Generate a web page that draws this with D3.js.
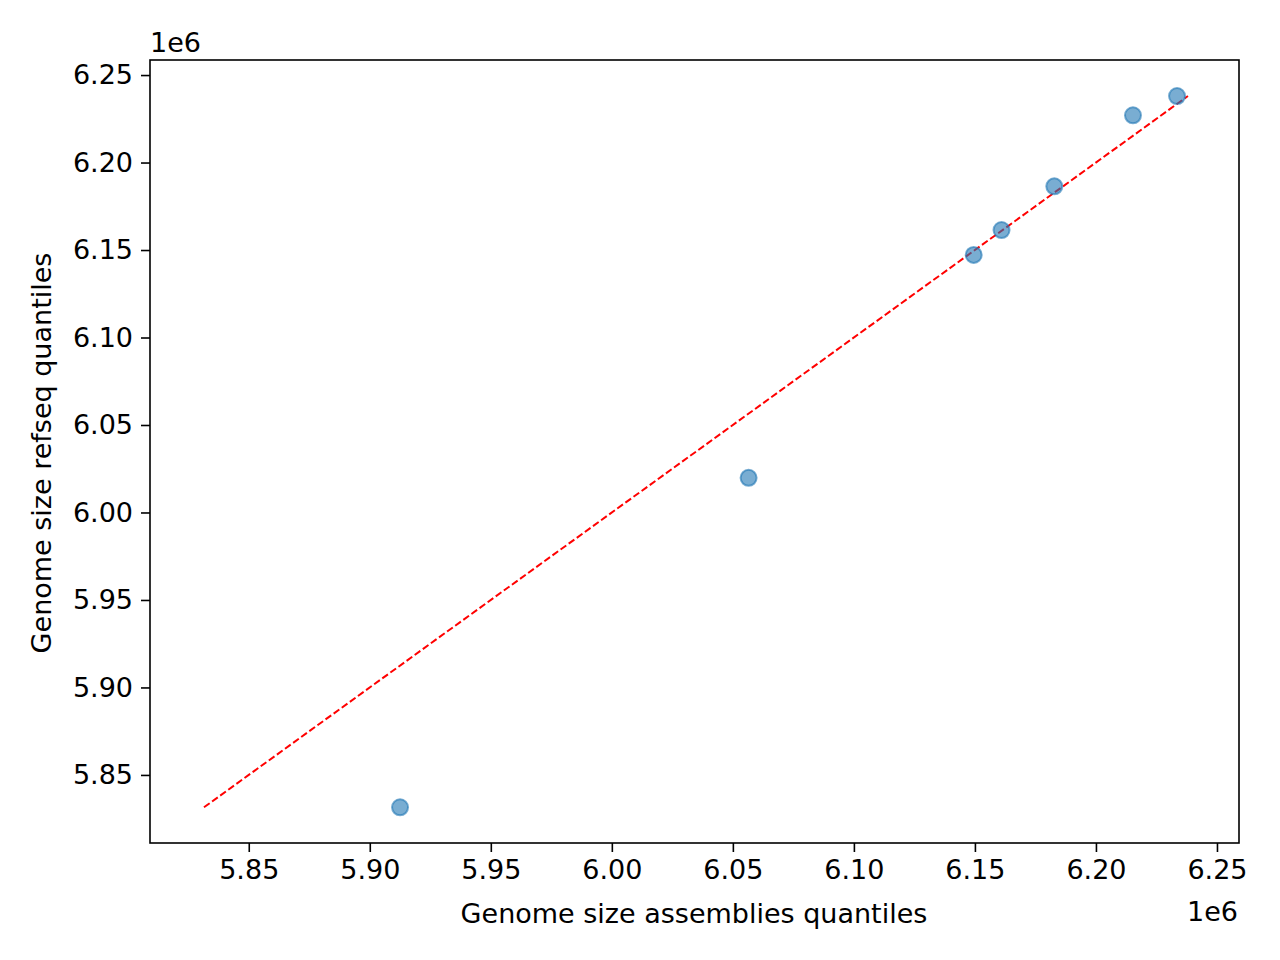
<!DOCTYPE html>
<html><head><meta charset="utf-8">
<script src="https://cdn.jsdelivr.net/npm/d3@7"></script>
<style>body{margin:0;background:#fff}text{font-family:"DejaVu Sans",sans-serif}</style>
</head><body><svg id="c" width="1280" height="960"></svg>
<script>
const assemblies = [5.9125, 6.0565, 6.1495, 6.1610, 6.1828, 6.2153, 6.2335];
const refseq =     [5.8315, 6.0198, 6.1472, 6.1614, 6.1864, 6.2270, 6.2380];
const xTicks = [5.85,5.90,5.95,6.00,6.05,6.10,6.15,6.20,6.25];
const yTicks = [5.85,5.90,5.95,6.00,6.05,6.10,6.15,6.20,6.25];
const lineEnds = [5.8315, 6.2380];

const svg = d3.select("#c");
const L=150,R=1239,T=60,B=843;
const FS=27;
const x = d3.scaleLinear().domain([5.8092,6.2591]).range([L,R]);
const y = d3.scaleLinear().domain([5.8111,6.2586]).range([B,T]);

const xa = svg.append("g").attr("transform",`translate(0,${B})`)
  .call(d3.axisBottom(x).tickValues(xTicks).tickFormat(d3.format(".2f")).tickSize(9).tickPadding(8));
const ya = svg.append("g").attr("transform",`translate(${L},0)`)
  .call(d3.axisLeft(y).tickValues(yTicks).tickFormat(d3.format(".2f")).tickSize(9).tickPadding(8));
[xa,ya].forEach(a=>{a.attr("font-size",FS).attr("font-family","DejaVu Sans");a.selectAll("text").attr("font-size",FS).attr("fill","#000");a.select(".domain").remove();a.selectAll("line").attr("stroke","#000").attr("stroke-width",1.6);});

svg.append("line").attr("x1",x(lineEnds[0])).attr("y1",y(lineEnds[0])).attr("x2",x(lineEnds[1])).attr("y2",y(lineEnds[1]))
  .attr("stroke","red").attr("stroke-width",2).attr("stroke-dasharray","7,3");

svg.selectAll("circle.p").data(assemblies).join("circle").attr("class","p")
  .attr("cx",d=>x(d)).attr("cy",(d,i)=>y(refseq[i])).attr("r",8)
  .attr("fill","#1f77b4").attr("fill-opacity",0.6).attr("stroke","#1f77b4").attr("stroke-opacity",0.6).attr("stroke-width",2);

svg.append("rect").attr("x",L).attr("y",T).attr("width",R-L).attr("height",B-T).attr("fill","none").attr("stroke","#000").attr("stroke-width",1.6);

svg.append("text").attr("x",150).attr("y",52).attr("font-size",FS).text("1e6");
svg.append("text").attr("x",1238).attr("y",921).attr("font-size",FS).attr("text-anchor","end").text("1e6");
svg.append("text").attr("x",694).attr("y",923).attr("font-size",FS).attr("text-anchor","middle").text("Genome size assemblies quantiles");
svg.append("text").attr("transform",`translate(51,453) rotate(-90)`).attr("font-size",FS).attr("text-anchor","middle").text("Genome size refseq quantiles");
</script></body></html>
